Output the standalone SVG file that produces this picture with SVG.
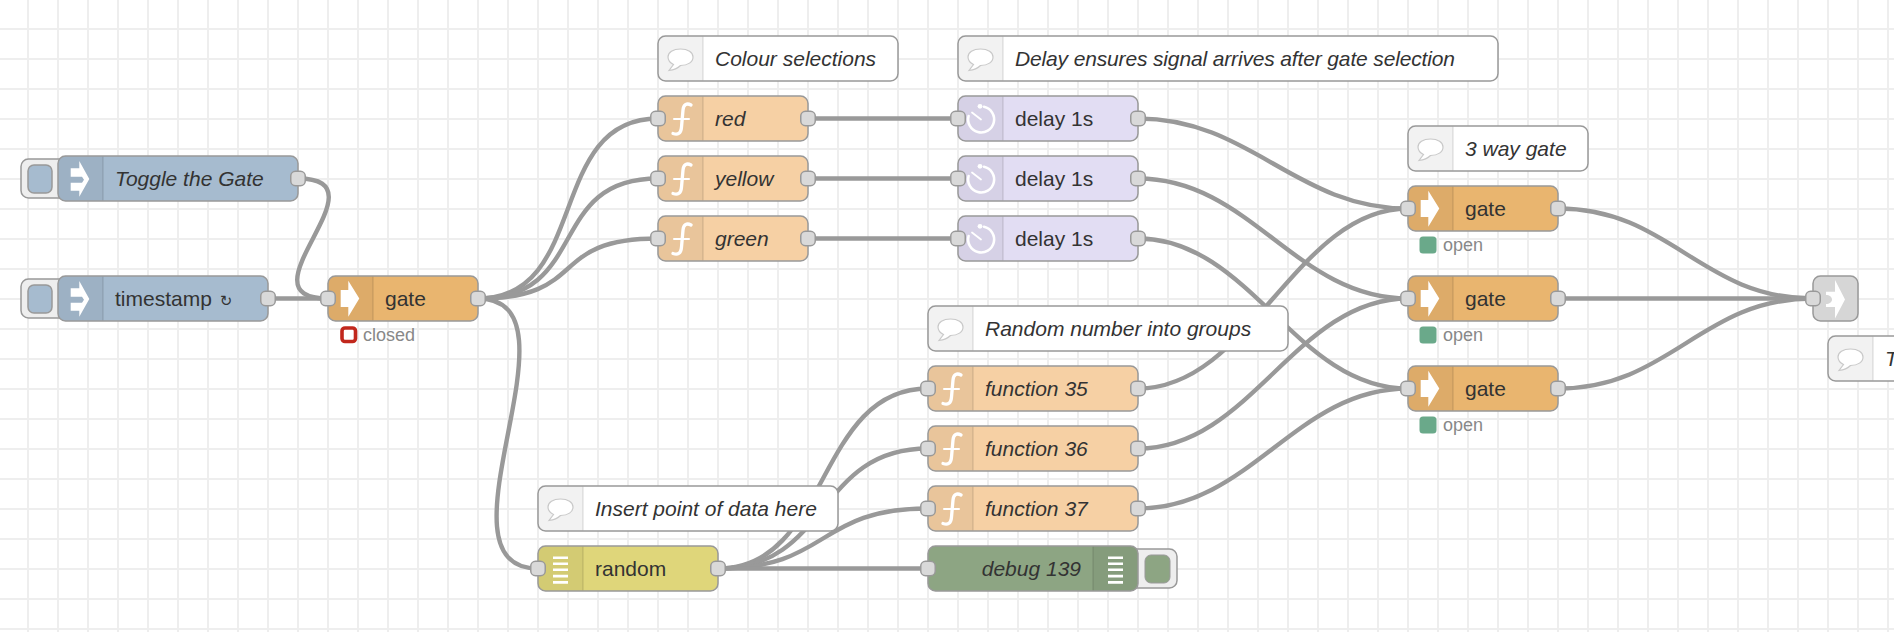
<svg xmlns="http://www.w3.org/2000/svg" xmlns:xlink="http://www.w3.org/1999/xlink" width="1894" height="632" viewBox="0 0 1894 632">
<style>
text{font-family:"Liberation Sans",Arial,"DejaVu Sans",sans-serif}
.lbl{font-size:21px;fill:#333}
.it{font-style:italic}
.st{font-size:18px;fill:#888}
.n{stroke:#999;stroke-width:1.5}
.sec{fill:#000;fill-opacity:.05}
.sep{stroke:#000;stroke-opacity:.1;stroke-width:1.5}
.port{fill:#d9d9d9;stroke:#999;stroke-width:1.5}
.w{fill:none;stroke:#999;stroke-width:4.4}
.inj{fill:#a6bbcf}.fn{fill:#f6d0a4}.gate{fill:#e9b56f}.dly{fill:#e2ddf3}.cmt{fill:#fff}.rnd{fill:#dfd67a}.dbg{fill:#8da583}.lnk{fill:#d6d6d6}
.btn{fill:#eee;stroke:#999;stroke-width:1.5}
.ic{fill:#fff}
.ics{fill:none;stroke:#fff;stroke-linecap:round}
</style>
<defs>
<pattern id="grid" patternUnits="userSpaceOnUse" width="30" height="30"><path d="M28 0V30M0 29H30" fill="none" stroke="#eee" stroke-width="2"/></pattern>
<path id="s" class="sec" d="M7.5 .75H45V44.25H7.5A6.75 6.75 0 0 1 .75 37.5V7.5A6.75 6.75 0 0 1 7.5 .75Z"/>
<g id="i-inj"><path class="ic" d="M21.3 5 31.3 23 21.3 40.7V34.7H12.7V26.7H24L26 23.7 24 20.7H12.7V12.3H21.3Z"/></g>
<g id="i-gate"><path class="ic" d="M20.3 4.7 31.3 22.5 20.3 40.7V31H12.7V14H20.3Z"/></g>
<g id="i-fn"><path class="ics" stroke-width="3.3" d="M33 9C28.5 6.5 25.5 9 25 14L23.5 31C23 38 19.5 39 15 37.5"/><path class="ics" stroke-width="2" d="M16 23H31"/></g>
<g id="i-dly"><path class="ics" stroke-width="2.6" d="M26 10.8A13 13 0 1 1 10.6 20"/><path class="ics" stroke-width="1.8" d="M14 16.5 23 23.5"/><circle class="ic" cx="22" cy="10.3" r="2.4"/></g>
<g id="i-cmt"><path fill="#fff" stroke="#c9c9c9" stroke-width="1.2" d="M22.5 13C15 13 10 16.5 10 21C10 24.5 12.5 27 15.5 28.5L11 34.5C15.5 34 20 32 22.5 29.5C30 29.5 35 26 35 21C35 16.5 30 13 22.5 13Z"/></g>
<g id="i-dbgb"><path class="ic" d="M0 0H15V2.6H0ZM0 6H15V8.6H0ZM0 12H15V14.6H0ZM0 18.3H15V20.9H0ZM0 24.6H15V27.2H0Z"/></g>
<rect id="pt" class="port" x="-7.25" y="15.25" width="14.5" height="14.5" rx="4.8"/>
</defs>
<rect width="1894" height="632" fill="#fff"/>
<rect width="1894" height="632" fill="url(#grid)"/>

<g id="connectors">
<path class="w" d="M298 178.5C390.8 178.5 235.2 298.5 328 298.5"/>
<path class="w" d="M268 298.5H328"/>
<path class="w" d="M478 298.5C590.5 298.5 545.5 118.5 658 118.5"/>
<path class="w" d="M478 298.5C590.5 298.5 545.5 178.5 658 178.5"/>
<path class="w" d="M478 298.5C590.5 298.5 545.5 238.5 658 238.5"/>
<path class="w" d="M478 298.5C590.5 298.5 425.5 568.5 538 568.5"/>
<path class="w" d="M808 118.5H958"/>
<path class="w" d="M808 178.5H958"/>
<path class="w" d="M808 238.5H958"/>
<path class="w" d="M1138 118.5C1250.5 118.5 1295.5 208.5 1408 208.5"/>
<path class="w" d="M1138 178.5C1250.5 178.5 1295.5 298.5 1408 298.5"/>
<path class="w" d="M1138 238.5C1250.5 238.5 1295.5 388.5 1408 388.5"/>
<path class="w" d="M718 568.5C830.5 568.5 815.5 388.5 928 388.5"/>
<path class="w" d="M718 568.5C830.5 568.5 815.5 448.5 928 448.5"/>
<path class="w" d="M718 568.5C830.5 568.5 815.5 508.5 928 508.5"/>
<path class="w" d="M718 568.5H928"/>
<path class="w" d="M1138 388.5C1250.5 388.5 1295.5 208.5 1408 208.5"/>
<path class="w" d="M1138 448.5C1250.5 448.5 1295.5 298.5 1408 298.5"/>
<path class="w" d="M1138 508.5C1250.5 508.5 1295.5 388.5 1408 388.5"/>
<path class="w" d="M1558 208.5C1670.5 208.5 1700.5 298.5 1813 298.5"/>
<path class="w" d="M1558 298.5H1813"/>
<path class="w" d="M1558 388.5C1670.5 388.5 1700.5 298.5 1813 298.5"/>
</g>

<g id="n-toggle" transform="translate(58,156)">
<rect class="btn" x="-37" y="3" width="50" height="39" rx="7.5"/><rect x="-30" y="9" width="24" height="28" rx="6" class="inj" stroke="#999" stroke-width="1.5"/>
<rect class="n inj" width="240" height="45" rx="7.5"/><use href="#s"/><path class="sep" d="M45 .75V44.25"/><use href="#i-inj"/>
<text class="lbl it" x="57" y="30">Toggle the Gate</text><use href="#pt" x="240"/></g>

<g id="n-timestamp" transform="translate(58,276)">
<rect class="btn" x="-37" y="3" width="50" height="39" rx="7.5"/><rect x="-30" y="9" width="24" height="28" rx="6" class="inj" stroke="#999" stroke-width="1.5"/>
<rect class="n inj" width="210" height="45" rx="7.5"/><use href="#s"/><path class="sep" d="M45 .75V44.25"/><use href="#i-inj"/>
<text class="lbl" x="57" y="30">timestamp <tspan dx="2" font-size="15" font-family="DejaVu Sans">↻</tspan></text><use href="#pt" x="210"/></g>

<g id="n-gate0" transform="translate(328,276)">
<rect class="n gate" width="150" height="45" rx="7.5"/><use href="#s"/><path class="sep" d="M45 .75V44.25"/><use href="#i-gate"/>
<text class="lbl" x="57" y="30">gate</text><use href="#pt"/><use href="#pt" x="150"/>
<rect x="14" y="52" width="13.5" height="13.5" rx="3" fill="#fff" stroke="#c1271c" stroke-width="3.6"/><text class="st" x="35" y="65">closed</text></g>

<g id="c-colour" transform="translate(658,36)"><rect class="n cmt" width="240" height="45" rx="7.5"/><use href="#s"/><path class="sep" d="M45 .75V44.25"/><use href="#i-cmt"/><text class="lbl it" x="57" y="30">Colour selections</text></g>
<g id="c-delay" transform="translate(958,36)"><rect class="n cmt" width="540" height="45" rx="7.5"/><use href="#s"/><path class="sep" d="M45 .75V44.25"/><use href="#i-cmt"/><text class="lbl it" x="57" y="30" textLength="440" lengthAdjust="spacing">Delay ensures signal arrives after gate selection</text></g>

<g id="n-red" transform="translate(658,96)"><rect class="n fn" width="150" height="45" rx="7.5"/><use href="#s"/><path class="sep" d="M45 .75V44.25"/><use href="#i-fn"/><text class="lbl it" x="57" y="30">red</text><use href="#pt"/><use href="#pt" x="150"/></g>
<g id="n-yellow" transform="translate(658,156)"><rect class="n fn" width="150" height="45" rx="7.5"/><use href="#s"/><path class="sep" d="M45 .75V44.25"/><use href="#i-fn"/><text class="lbl it" x="57" y="30">yellow</text><use href="#pt"/><use href="#pt" x="150"/></g>
<g id="n-green" transform="translate(658,216)"><rect class="n fn" width="150" height="45" rx="7.5"/><use href="#s"/><path class="sep" d="M45 .75V44.25"/><use href="#i-fn"/><text class="lbl it" x="57" y="30">green</text><use href="#pt"/><use href="#pt" x="150"/></g>

<g id="n-delay1" transform="translate(958,96)"><rect class="n dly" width="180" height="45" rx="7.5"/><use href="#s"/><path class="sep" d="M45 .75V44.25"/><use href="#i-dly"/><text class="lbl" x="57" y="30">delay 1s</text><use href="#pt"/><use href="#pt" x="180"/></g>
<g id="n-delay2" transform="translate(958,156)"><rect class="n dly" width="180" height="45" rx="7.5"/><use href="#s"/><path class="sep" d="M45 .75V44.25"/><use href="#i-dly"/><text class="lbl" x="57" y="30">delay 1s</text><use href="#pt"/><use href="#pt" x="180"/></g>
<g id="n-delay3" transform="translate(958,216)"><rect class="n dly" width="180" height="45" rx="7.5"/><use href="#s"/><path class="sep" d="M45 .75V44.25"/><use href="#i-dly"/><text class="lbl" x="57" y="30">delay 1s</text><use href="#pt"/><use href="#pt" x="180"/></g>

<g id="c-3way" transform="translate(1408,126)"><rect class="n cmt" width="180" height="45" rx="7.5"/><use href="#s"/><path class="sep" d="M45 .75V44.25"/><use href="#i-cmt"/><text class="lbl it" x="57" y="30">3 way gate</text></g>

<g id="n-gate1" transform="translate(1408,186)"><rect class="n gate" width="150" height="45" rx="7.5"/><use href="#s"/><path class="sep" d="M45 .75V44.25"/><use href="#i-gate"/><text class="lbl" x="57" y="30">gate</text><use href="#pt"/><use href="#pt" x="150"/><rect x="11.5" y="50.5" width="17" height="17" rx="3.5" fill="#6aa98a"/><text class="st" x="35" y="65">open</text></g>
<g id="n-gate2" transform="translate(1408,276)"><rect class="n gate" width="150" height="45" rx="7.5"/><use href="#s"/><path class="sep" d="M45 .75V44.25"/><use href="#i-gate"/><text class="lbl" x="57" y="30">gate</text><use href="#pt"/><use href="#pt" x="150"/><rect x="11.5" y="50.5" width="17" height="17" rx="3.5" fill="#6aa98a"/><text class="st" x="35" y="65">open</text></g>
<g id="n-gate3" transform="translate(1408,366)"><rect class="n gate" width="150" height="45" rx="7.5"/><use href="#s"/><path class="sep" d="M45 .75V44.25"/><use href="#i-gate"/><text class="lbl" x="57" y="30">gate</text><use href="#pt"/><use href="#pt" x="150"/><rect x="11.5" y="50.5" width="17" height="17" rx="3.5" fill="#6aa98a"/><text class="st" x="35" y="65">open</text></g>

<g id="n-link" transform="translate(1813,276)"><rect class="n lnk" width="45" height="45" rx="7.5"/><path class="ic" d="M22 4 32 23.5 22 42.5V31H13V28C16.5 28 19 26 19 23.5C19 21 16.5 19 13 19V15.7H22Z"/><use href="#pt"/></g>

<g id="c-t" transform="translate(1828,336)"><rect class="n cmt" width="100" height="45" rx="7.5"/><use href="#s"/><path class="sep" d="M45 .75V44.25"/><use href="#i-cmt"/><text class="lbl it" x="57" y="30">T</text></g>

<g id="c-random" transform="translate(928,306)"><rect class="n cmt" width="360" height="45" rx="7.5"/><use href="#s"/><path class="sep" d="M45 .75V44.25"/><use href="#i-cmt"/><text class="lbl it" x="57" y="30">Random number into groups</text></g>

<g id="n-f35" transform="translate(928,366)"><rect class="n fn" width="210" height="45" rx="7.5"/><use href="#s"/><path class="sep" d="M45 .75V44.25"/><use href="#i-fn"/><text class="lbl it" x="57" y="30">function 35</text><use href="#pt"/><use href="#pt" x="210"/></g>
<g id="n-f36" transform="translate(928,426)"><rect class="n fn" width="210" height="45" rx="7.5"/><use href="#s"/><path class="sep" d="M45 .75V44.25"/><use href="#i-fn"/><text class="lbl it" x="57" y="30">function 36</text><use href="#pt"/><use href="#pt" x="210"/></g>
<g id="n-f37" transform="translate(928,486)"><rect class="n fn" width="210" height="45" rx="7.5"/><use href="#s"/><path class="sep" d="M45 .75V44.25"/><use href="#i-fn"/><text class="lbl it" x="57" y="30">function 37</text><use href="#pt"/><use href="#pt" x="210"/></g>

<g id="c-insert" transform="translate(538,486)"><rect class="n cmt" width="300" height="45" rx="7.5"/><use href="#s"/><path class="sep" d="M45 .75V44.25"/><use href="#i-cmt"/><text class="lbl it" x="57" y="30">Insert point of data here</text></g>

<g id="n-random" transform="translate(538,546)"><rect class="n rnd" width="180" height="45" rx="7.5"/><use href="#s"/><path class="sep" d="M45 .75V44.25"/><use href="#i-dbgb" x="15" y="10.5"/><text class="lbl" x="57" y="30">random</text><use href="#pt"/><use href="#pt" x="180"/></g>

<g id="n-debug" transform="translate(928,546)">
<rect class="btn" x="197" y="3" width="52" height="39" rx="7.5"/><rect x="217" y="9" width="25" height="28" rx="6" class="dbg" stroke="#999" stroke-width="1"/>
<rect class="n dbg" width="210" height="45" rx="7.5"/><path class="sec" d="M165 .75H202.5A6.75 6.75 0 0 1 209.25 7.5V37.5A6.75 6.75 0 0 1 202.5 44.25H165Z"/><path class="sep" d="M165 .75V44.25"/><use href="#i-dbgb" x="180" y="10.5"/>
<text class="lbl it" x="153" y="30" text-anchor="end">debug 139</text><use href="#pt"/></g>
</svg>
